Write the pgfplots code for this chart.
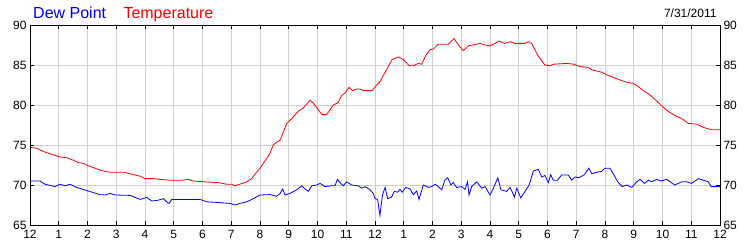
\documentclass[border=0pt]{standalone}
\usepackage{pgfplots}
\pgfplotsset{compat=1.18}
\usepackage{fontspec}
\setmainfont{Liberation Sans}
\definecolor{gridgray}{RGB}{208,208,208}
\begin{document}
\begin{tikzpicture}[x=1bp,y=1bp]
\path[use as bounding box] (0,0) rectangle (750,250);
\pgfplotsset{
  base/.style={
    at={(30bp,25bp)}, anchor=south west,
    scale only axis, width=690bp, height=200bp,
    xmin=0, xmax=24, ymin=65, ymax=90,
    ytick={65,70,75,80,85,90},
    /pgf/number format/assume math mode=true,
    tick label style={font=\fontsize{12bp}{14bp}\selectfont},
    major tick length=4bp,
    tick style={black, line width=0.8bp},
    axis line style={black, line width=0.8bp},
  }
}
\begin{axis}[base,
  xtick={0,...,24},
  xticklabels={12,1,2,3,4,5,6,7,8,9,10,11,12,1,2,3,4,5,6,7,8,9,10,11,12},
  xtick pos=both, ytick pos=both,
  yticklabel pos=left,
  grid=major,
  major grid style={gridgray, line width=0.8bp},
  xticklabel style={yshift=-2bp},
]
\addplot[blue, line width=0.8bp] coordinates {
(0,70.5)(0.35,70.5)(0.52,70.1)(0.87,69.8)(1.04,70.1)(1.22,69.9)(1.39,70.1)(1.62,69.7)(2.03,69.25)(2.43,68.8)(2.61,68.75)(2.78,68.95)(2.96,68.75)(3.48,68.7)(3.83,68.2)(4.06,68.45)(4.23,68.0)(4.46,68.1)(4.64,68.3)(4.75,67.9)(4.84,67.7)(4.93,68.2)(5.91,68.2)(6.15,67.9)(6.6,67.8)(6.96,67.7)(7.13,67.5)(7.3,67.7)(7.54,67.9)(7.77,68.3)(8.0,68.75)(8.35,68.8)(8.58,68.6)(8.7,68.95)(8.79,69.5)(8.87,68.75)(9.04,68.95)(9.28,69.4)(9.45,69.9)(9.57,69.5)(9.68,69.2)(9.8,69.9)(9.97,70.0)(10.09,70.2)(10.26,69.8)(10.49,69.9)(10.61,69.9)(10.69,70.7)(10.81,70.2)(10.9,69.9)(11.01,70.4)(11.19,70.0)(11.42,69.9)(11.54,69.6)(11.65,69.8)(11.83,69.4)(11.94,68.95)(12.0,68.3)(12.09,68.2)(12.17,66.2)(12.26,68.75)(12.35,69.7)(12.44,68.3)(12.58,68.5)(12.67,69.2)(12.79,69.1)(12.87,69.45)(12.95,69.1)(13.07,69.7)(13.22,69.5)(13.33,68.8)(13.45,69.25)(13.53,68.2)(13.68,70.0)(13.86,69.7)(13.97,69.8)(14.09,70.1)(14.23,69.7)(14.32,69.4)(14.43,70.6)(14.53,70.9)(14.64,70.0)(14.72,70.3)(14.84,69.7)(15.01,69.8)(15.13,69.45)(15.22,70.4)(15.27,68.75)(15.36,69.8)(15.54,70.4)(15.71,69.6)(15.83,69.8)(16.0,68.75)(16.12,69.6)(16.27,70.9)(16.38,69.4)(16.58,69.2)(16.7,69.7)(16.85,68.5)(16.93,69.6)(17.07,68.4)(17.22,69.2)(17.36,70.0)(17.51,71.75)(17.68,71.95)(17.8,71.0)(17.91,71.2)(18.03,70.3)(18.11,71.3)(18.2,70.6)(18.35,70.6)(18.49,71.25)(18.72,71.25)(18.84,70.6)(18.96,71.0)(19.1,70.9)(19.28,71.3)(19.44,72.1)(19.54,71.4)(19.71,71.6)(19.88,71.7)(20.0,72.1)(20.17,72.1)(20.29,71.4)(20.44,70.4)(20.6,69.8)(20.75,70.0)(20.93,69.7)(21.1,70.4)(21.22,70.7)(21.37,70.2)(21.51,70.6)(21.62,70.4)(21.8,70.7)(21.95,70.5)(22.14,70.7)(22.43,70.0)(22.67,70.4)(22.84,70.4)(23.01,70.2)(23.25,70.8)(23.42,70.6)(23.59,70.4)(23.69,69.8)(24,69.8)
};
\addplot[red, line width=0.8bp] coordinates {
(0,74.7)(0.23,74.6)(0.46,74.2)(0.7,73.9)(0.87,73.7)(1.04,73.5)(1.28,73.4)(1.5,73.1)(1.68,72.8)(1.86,72.7)(2.03,72.4)(2.26,72.1)(2.49,71.8)(2.78,71.6)(3.25,71.6)(3.48,71.4)(3.83,71.1)(4.0,70.8)(4.29,70.8)(4.52,70.7)(4.87,70.6)(5.3,70.6)(5.5,70.7)(5.68,70.5)(6.03,70.4)(6.55,70.3)(6.84,70.1)(7.01,70.1)(7.13,69.9)(7.3,70.1)(7.54,70.4)(7.71,70.8)(7.88,71.6)(8.0,72.1)(8.23,73.3)(8.35,74.0)(8.46,75.0)(8.6,75.4)(8.7,75.6)(8.81,76.6)(8.93,77.7)(9.1,78.3)(9.33,79.2)(9.5,79.6)(9.74,80.6)(9.86,80.2)(10.03,79.4)(10.15,78.8)(10.32,78.8)(10.55,80.0)(10.72,80.3)(10.84,81.2)(10.96,81.5)(11.1,82.2)(11.22,81.8)(11.36,82.0)(11.48,82.0)(11.6,81.8)(11.9,81.8)(12.06,82.5)(12.17,82.9)(12.29,83.7)(12.46,84.8)(12.6,85.7)(12.81,86.0)(12.99,85.7)(13.19,84.9)(13.33,84.9)(13.5,85.2)(13.62,85.1)(13.77,86.2)(13.91,86.9)(14.03,87.0)(14.2,87.6)(14.55,87.6)(14.75,88.3)(14.92,87.4)(15.07,86.8)(15.25,87.4)(15.54,87.6)(15.65,87.7)(15.83,87.5)(16.0,87.4)(16.17,87.7)(16.32,88.0)(16.5,87.7)(16.7,87.9)(16.87,87.7)(17.2,87.7)(17.33,87.9)(17.45,87.7)(17.68,86.1)(17.91,85.0)(18.09,84.9)(18.2,85.1)(18.67,85.2)(18.9,85.1)(19.13,84.8)(19.42,84.7)(19.54,84.4)(19.88,84.1)(20.08,83.75)(20.4,83.3)(20.7,82.9)(20.98,82.7)(21.16,82.3)(21.33,81.8)(21.57,81.25)(21.8,80.5)(22.0,79.8)(22.2,79.2)(22.43,78.7)(22.67,78.3)(22.9,77.7)(23.19,77.6)(23.42,77.2)(23.71,76.9)(24,76.9)
};
\end{axis}
\begin{axis}[base,
  xtick=\empty,
  ytick pos=right, yticklabel pos=right,
]
\end{axis}
\node[anchor=base west, inner sep=0pt, text=blue, font=\fontsize{16bp}{18bp}\selectfont] at (33,231.7) {Dew Point};
\node[anchor=base west, inner sep=0pt, text=red, font=\fontsize{16bp}{18bp}\selectfont] at (123.3,231.7) {Temperature};
\node[anchor=base east, inner sep=0pt, text=black, font=\fontsize{12bp}{14bp}\selectfont] at (716.7,232.7) {7/31/2011};
\end{tikzpicture}
\end{document}
